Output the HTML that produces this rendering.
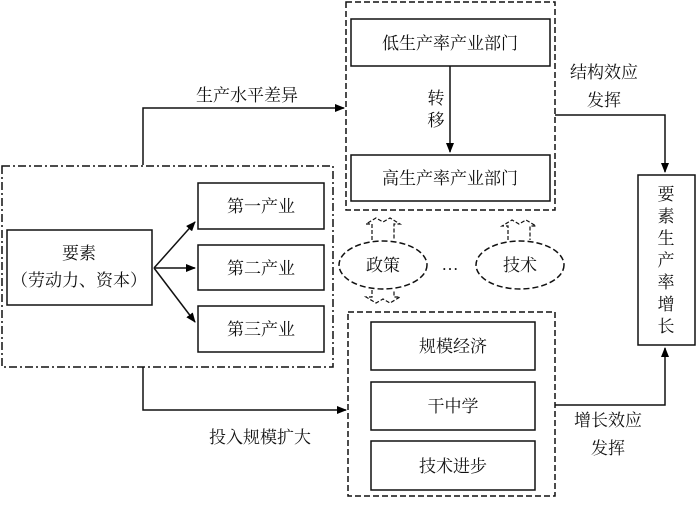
<!DOCTYPE html>
<html><head><meta charset="utf-8"><style>
body{margin:0;background:#fff}
text{font-family:"Liberation Serif","Noto Serif CJK SC","Noto Sans CJK SC",serif;font-size:17px;fill:#111}
</style></head><body>
<svg width="700" height="503" viewBox="0 0 700 503" xmlns="http://www.w3.org/2000/svg">
<defs><marker id="a" markerWidth="10" markerHeight="8" refX="9" refY="4" orient="auto" markerUnits="userSpaceOnUse"><path d="M0,0 L10,4 L0,8 z" fill="#000"/></marker></defs>
<g fill="none" stroke="#111" stroke-width="1.5">
<rect x="2" y="166" width="331" height="201" stroke-dasharray="8,3,2,3"/>
<rect x="346" y="2" width="209" height="208" stroke-dasharray="6,3"/>
<rect x="348" y="312" width="207" height="184" stroke-dasharray="6,3"/>
<rect x="7" y="230" width="145" height="75"/>
<rect x="198" y="183" width="126" height="46"/>
<rect x="198" y="245" width="126" height="45"/>
<rect x="198" y="306" width="126" height="46"/>
<rect x="351" y="19" width="199" height="47"/>
<rect x="351" y="155" width="199" height="46"/>
<rect x="371" y="322" width="164" height="48"/>
<rect x="371" y="382" width="164" height="48"/>
<rect x="371" y="441" width="164" height="49"/>
<rect x="638" y="175" width="57" height="170"/>
<ellipse cx="383" cy="265" rx="44" ry="24" stroke-dasharray="6,3"/>
<ellipse cx="520" cy="265" rx="44" ry="24" stroke-dasharray="6,3"/>
<path d="M154,268 L195,222" marker-end="url(#a)"/>
<path d="M154,268 L195,268" marker-end="url(#a)"/>
<path d="M154,268 L195,322" marker-end="url(#a)"/>
<path d="M450,66 L450,152" marker-end="url(#a)"/>
<path d="M143,165 L143,108 L344,108" marker-end="url(#a)"/>
<path d="M143,367 L143,410 L346,410" marker-end="url(#a)"/>
<path d="M555,115 L665,115 L665,172" marker-end="url(#a)"/>
<path d="M555,405 L665,405 L665,348" marker-end="url(#a)"/>
<g stroke-dasharray="4,2" stroke-width="1.2">
<path d="M372,240 L372,224 L366,224 L376,218 L383,222 L390,218 L400,224 L394,224 L394,240"/>
<path d="M508,240 L508,226 L502,226 L512,220 L519,224 L526,220 L536,226 L530,226 L530,240"/>
<path d="M372,290 L372,297 L366,297 L376,303 L383,299 L390,303 L400,297 L394,297 L394,290"/>
</g>
</g>
<text x="79" y="259" text-anchor="middle">要素</text>
<text x="79" y="286" text-anchor="middle">（劳动力、资本）</text>
<text x="261" y="212" text-anchor="middle">第一产业</text>
<text x="261" y="274" text-anchor="middle">第二产业</text>
<text x="261" y="335" text-anchor="middle">第三产业</text>
<text x="450" y="49" text-anchor="middle">低生产率产业部门</text>
<text x="450" y="184" text-anchor="middle">高生产率产业部门</text>
<text x="436" y="104" text-anchor="middle">转</text>
<text x="436" y="126" text-anchor="middle">移</text>
<text x="453" y="352" text-anchor="middle">规模经济</text>
<text x="453" y="412" text-anchor="middle">干中学</text>
<text x="453" y="472" text-anchor="middle">技术进步</text>
<text x="383" y="271" text-anchor="middle">政策</text>
<text x="520" y="271" text-anchor="middle">技术</text>
<text x="450" y="270" text-anchor="middle">…</text>
<text x="247" y="101" text-anchor="middle">生产水平差异</text>
<text x="260" y="443" text-anchor="middle">投入规模扩大</text>
<text x="604" y="78" text-anchor="middle">结构效应</text>
<text x="604" y="106" text-anchor="middle">发挥</text>
<text x="608" y="426" text-anchor="middle">增长效应</text>
<text x="608" y="454" text-anchor="middle">发挥</text>
<g text-anchor="middle">
<text x="666" y="200">要</text><text x="666" y="222">素</text><text x="666" y="244">生</text>
<text x="666" y="266">产</text><text x="666" y="288">率</text><text x="666" y="310">增</text><text x="666" y="332">长</text>
</g>
</svg>
</body></html>
